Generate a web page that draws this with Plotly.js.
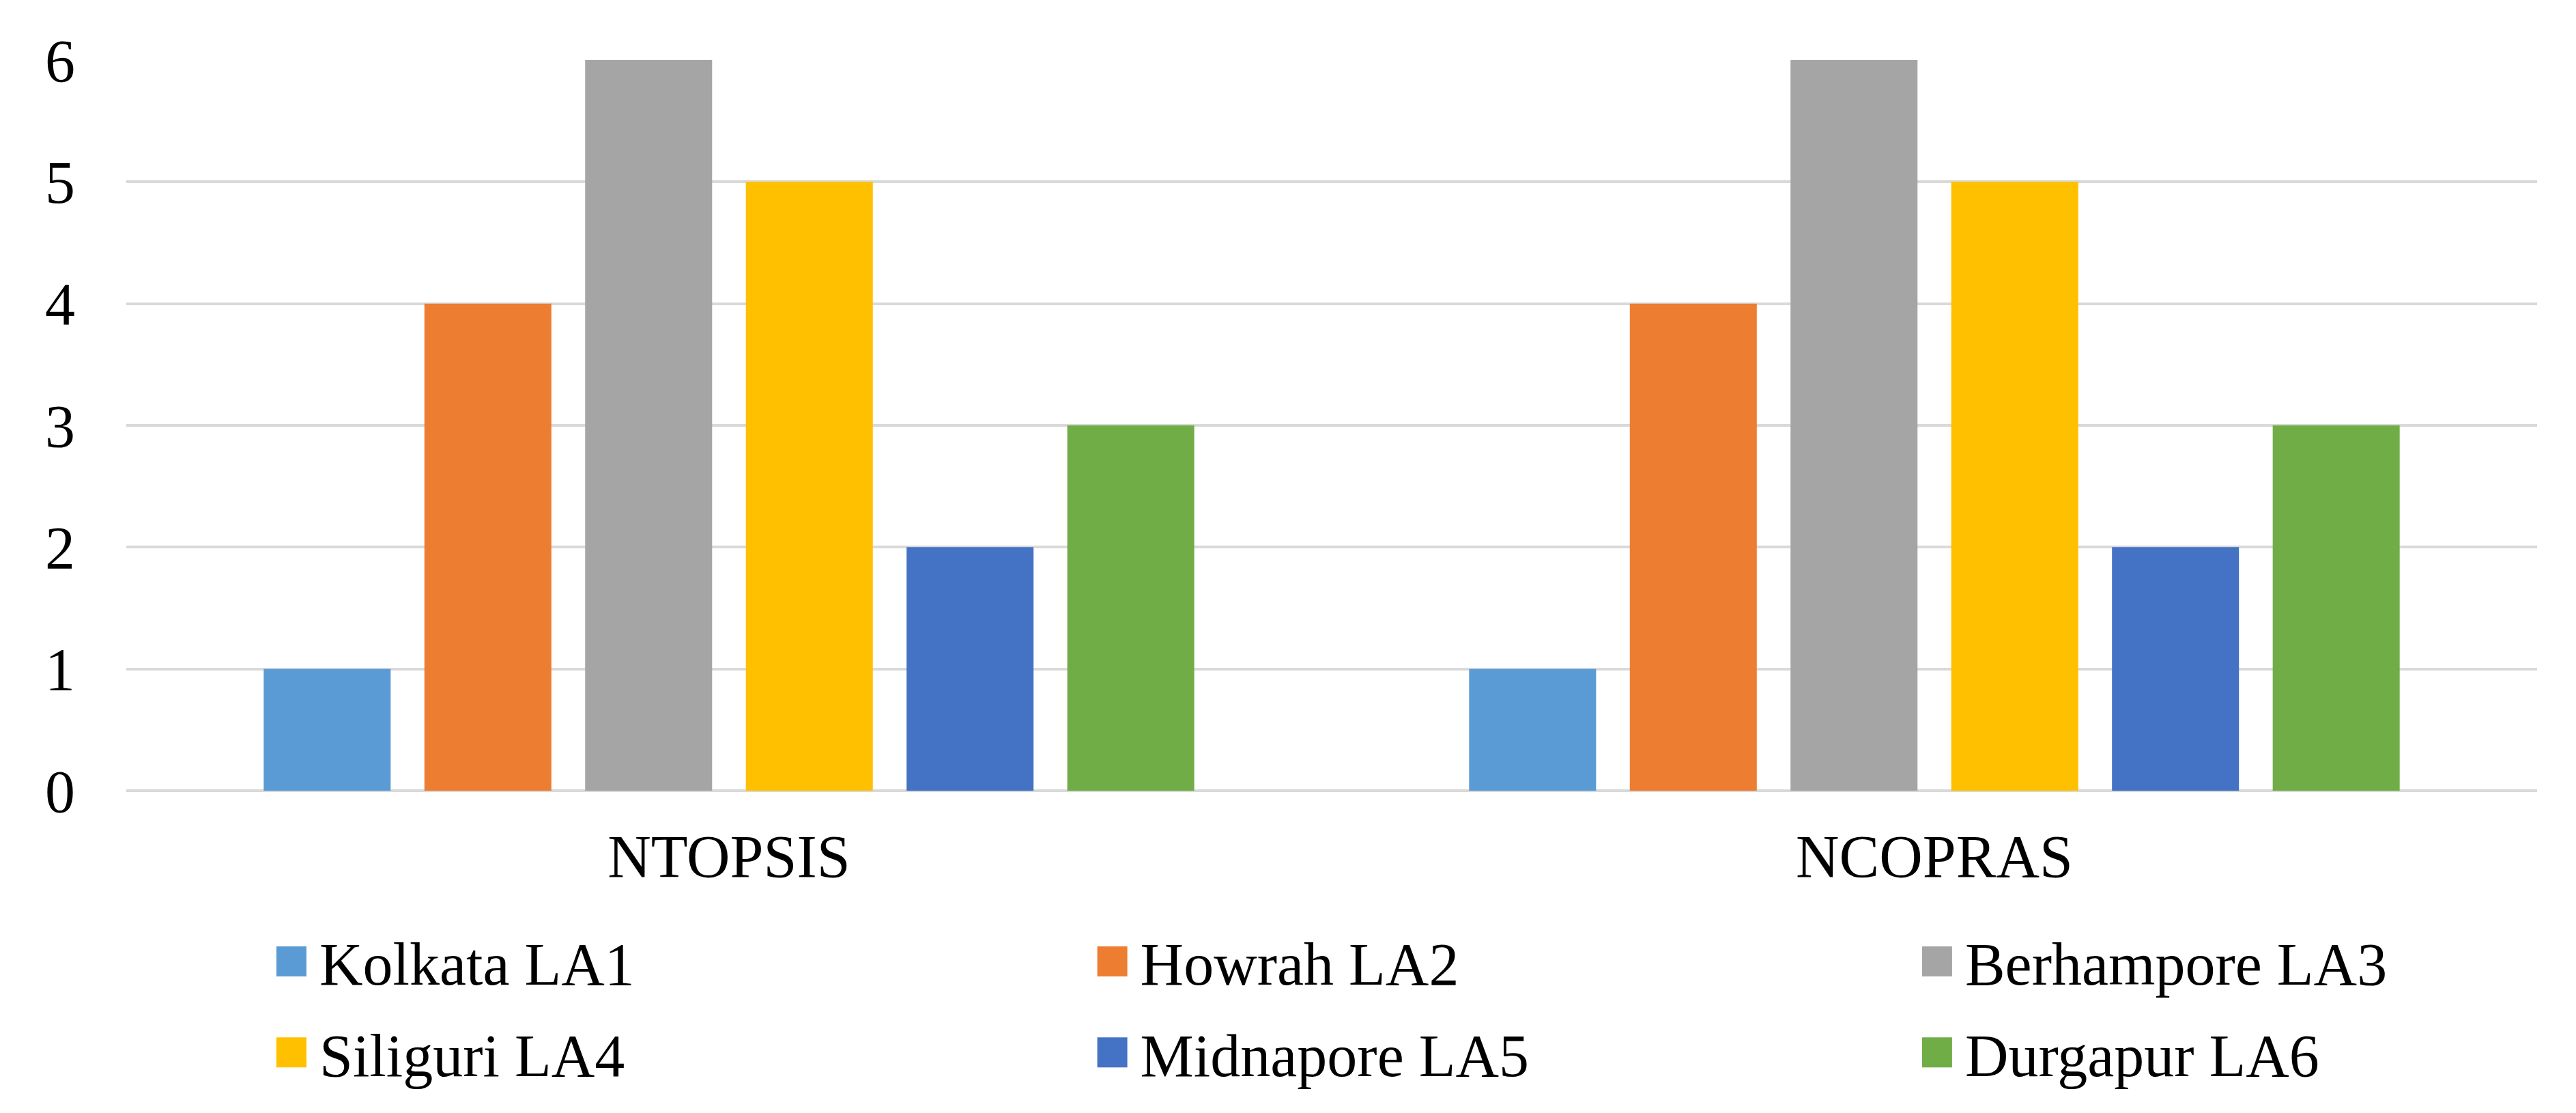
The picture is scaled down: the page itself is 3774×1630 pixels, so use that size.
<!DOCTYPE html>
<html>
<head>
<meta charset="utf-8">
<script src="https://cdn.plot.ly/plotly-3.0.1.min.js"></script>
<style>html,body{margin:0;padding:0;background:#fff;}#chart{width:3774px;height:1630px;}</style>
</head>
<body>
<div id="chart"></div>
<script>
const categories = ["NTOPSIS", "NCOPRAS"];
const seriesNames = ["Kolkata LA1", "Howrah LA2", "Berhampore LA3", "Siliguri LA4", "Midnapore LA5", "Durgapur LA6"];
const kolkata = [1, 1];
const howrah = [4, 4];
const berhampore = [6, 6];
const siliguri = [5, 5];
const midnapore = [2, 2];
const durgapur = [3, 3];
const seriesColors = ["#5B9BD5", "#ED7D31", "#A5A5A5", "#FFC000", "#4472C4", "#70AD47"];
const yTicks = [0, 1, 2, 3, 4, 5, 6];

const seriesValues = [kolkata, howrah, berhampore, siliguri, midnapore, durgapur];
const font = {family: "Liberation Serif, Times New Roman, serif", size: 88, color: "#000"};
// legend columns (reference layout: 3 columns x 2 rows)
const legendIds = ["legend", "legend2", "legend3", "legend", "legend2", "legend3"];

const data = seriesValues.map((vals, i) => ({
  type: "bar",
  name: seriesNames[i],
  x: categories,
  y: vals,
  legend: legendIds[i],
  legendgroup: "g" + i,
  marker: {color: seriesColors[i], line: {width: 0}},
  hoverinfo: "skip"
}));

function legendAt(x) {
  return {
    orientation: "v",
    x: x,
    xanchor: "left",
    y: -0.174,
    yanchor: "top",
    font: font,
    itemwidth: 72,
    traceorder: "grouped",
    tracegroupgap: 16,
    bgcolor: "rgba(0,0,0,0)"
  };
}

const layout = {
  width: 3774,
  height: 1630,
  paper_bgcolor: "#ffffff",
  plot_bgcolor: "#ffffff",
  font: font,
  margin: {l: 185, r: 57, t: 88, b: 472, autoexpand: false},
  barmode: "group",
  bargap: 0.2,
  bargroupgap: 0.21,
  showlegend: true,
  legend: legendAt(0.0569),
  legend2: legendAt(0.3974),
  legend3: legendAt(0.7395),
  xaxis: {
    type: "category",
    showgrid: false,
    zeroline: false,
    showline: false,
    ticks: "",
    tickfont: font,
    ticklabelstandoff: 37
  },
  yaxis: {
    range: [0, 6],
    tickvals: yTicks,
    ticktext: yTicks.map(String),
    showgrid: true,
    gridcolor: "#D9D9D9",
    gridwidth: 4,
    zeroline: true,
    zerolinecolor: "#D9D9D9",
    zerolinewidth: 4,
    showline: false,
    ticks: "",
    tickfont: font,
    ticklabelstandoff: 74
  }
};

Plotly.newPlot("chart", data, layout, {displayModeBar: false, staticPlot: true}).then(gd => {
  // enlarge legend swatches to match the reference's square size
  gd.querySelectorAll(".legendpoints path").forEach(p => {
    p.setAttribute("d", "M22,22H-22V-22H22Z");
  });
});
</script>
</body>
</html>
